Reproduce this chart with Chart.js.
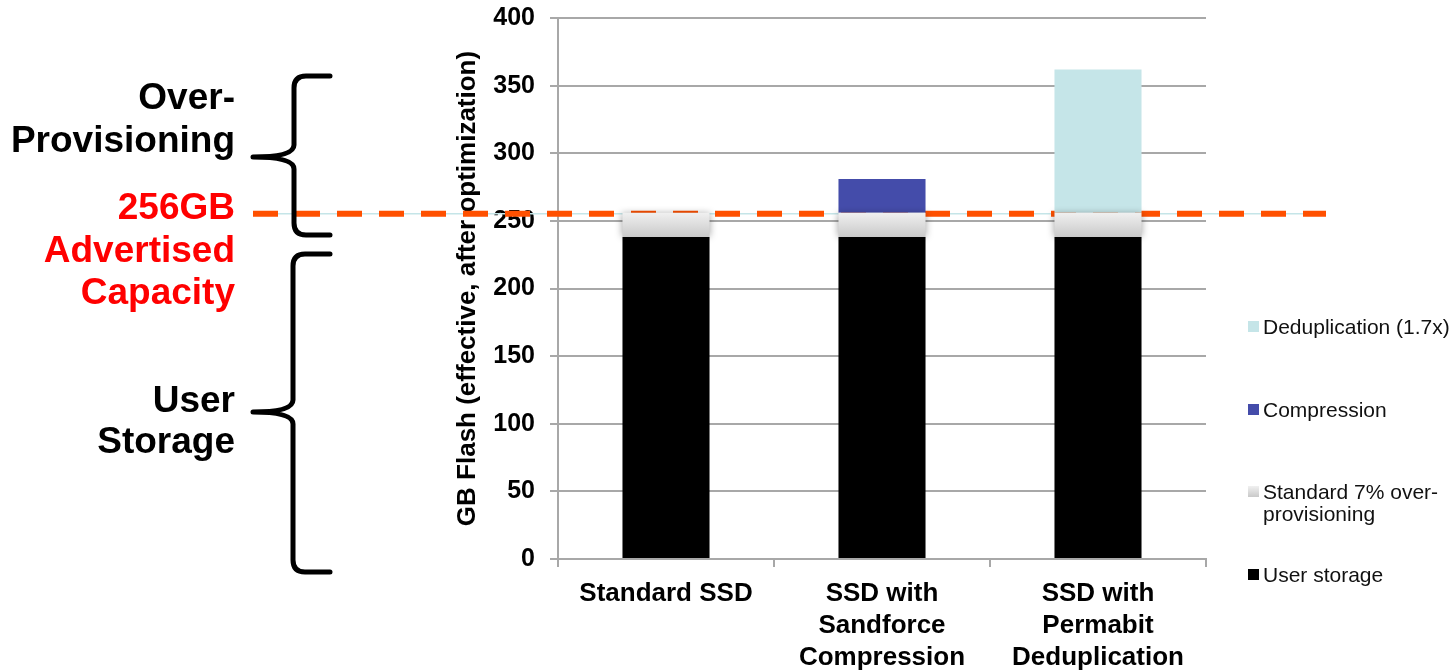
<!DOCTYPE html>
<html>
<head>
<meta charset="utf-8">
<title>SSD capacity</title>
<script src="https://cdn.jsdelivr.net/npm/chart.js@4.4.1/dist/chart.umd.min.js"></script>
<style>
    html, body { margin: 0; padding: 0; background: #ffffff; }
    #wrap { position: relative; width: 1454px; height: 672px; }
</style>
</head>
<body>
<div id="wrap"><canvas id="capacityChart" width="1454" height="672"></canvas></div>
<script>
// Chart data
const categories = [
    ['Standard SSD'],
    ['SSD with', 'Sandforce', 'Compression'],
    ['SSD with', 'Permabit', 'Deduplication']
];
const userStorage = [238, 238, 238];
const overProvisioning = [18, 18, 18];
const compression = [0, 25, 0];
const deduplication = [0, 0, 106];
const yTicks = [0, 50, 100, 150, 200, 250, 300, 350, 400];
const advertisedCapacity = 256;

const legendLabels = [
    ['Deduplication (1.7x)'],
    ['Compression'],
    ['Standard 7% over-', 'provisioning'],
    ['User storage']
];

const FONT = "'Liberation Sans', Arial, Helvetica, sans-serif";
const GRID = '#a8a8a8';

// Gradient for the over-provisioning slice, built from the y scale
function opGradient(chart, top, bottom) {
    const g = chart.ctx.createLinearGradient(0, top, 0, bottom);
    g.addColorStop(0, '#f0f0f0');
    g.addColorStop(1, '#c9c9c9');
    return g;
}

// Draws the dashed 256GB line under the bars
const capacityLine = {
    id: 'capacityLine',
    beforeDatasetsDraw(chart) {
        const ctx = chart.ctx;
        const y = chart.scales.y.getPixelForValue(advertisedCapacity) + 1;
        ctx.save();
        ctx.strokeStyle = '#c5e5e8';
        ctx.lineWidth = 1.5;
        ctx.beginPath();
        ctx.moveTo(253, y);
        ctx.lineTo(1326, y);
        ctx.stroke();
        ctx.strokeStyle = '#ff5000';
        ctx.lineWidth = 6;
        ctx.setLineDash([25, 17]);
        ctx.beginPath();
        ctx.moveTo(253, y);
        ctx.lineTo(1326, y);
        ctx.stroke();
        ctx.restore();
    },
    // soft shadow round the over-provisioning slice
    beforeDatasetDraw(chart, args) {
        if (args.index !== 1) return;
        chart.ctx.save();
        chart.ctx.shadowColor = 'rgba(0,0,0,0.35)';
        chart.ctx.shadowBlur = 7;
    },
    afterDatasetDraw(chart, args) {
        if (args.index !== 1) return;
        chart.ctx.restore();
    }
};

// Draws a curly brace pointing left
function drawBrace(ctx, xTip, xBar, xEnd, yTop, yMid, yBot) {
    const r = 12;
    ctx.beginPath();
    ctx.moveTo(xEnd, yTop);
    ctx.lineTo(xBar + r, yTop);
    ctx.quadraticCurveTo(xBar, yTop, xBar, yTop + r);
    ctx.lineTo(xBar, yMid - r);
    ctx.quadraticCurveTo(xBar, yMid, xTip, yMid);
    ctx.quadraticCurveTo(xBar, yMid, xBar, yMid + r);
    ctx.lineTo(xBar, yBot - r);
    ctx.quadraticCurveTo(xBar, yBot, xBar + r, yBot);
    ctx.lineTo(xEnd, yBot);
    ctx.stroke();
}

// Side notes and the legend
const annotations = {
    id: 'annotations',
    afterDraw(chart) {
        const ctx = chart.ctx;
        ctx.save();

        ctx.strokeStyle = '#000000';
        ctx.lineWidth = 5;
        ctx.lineCap = 'round';
        ctx.lineJoin = 'round';
        drawBrace(ctx, 253, 294, 330, 76, 157, 235);
        drawBrace(ctx, 253, 293, 330, 254, 412, 572);

        ctx.textAlign = 'right';
        ctx.textBaseline = 'alphabetic';
        ctx.font = 'bold 37px ' + FONT;
        ctx.fillStyle = '#000000';
        ctx.fillText('Over-', 235, 109);
        ctx.fillText('Provisioning', 235, 152);
        ctx.fillText('User', 235, 412);
        ctx.fillText('Storage', 235, 453);
        ctx.fillStyle = '#ff0000';
        ctx.fillText('256GB', 235, 219);
        ctx.fillText('Advertised', 235, 262);
        ctx.fillText('Capacity', 235, 304);

        // legend
        const swatches = [
            '#c5e5e8',
            '#444caa',
            opGradient(chart, 486, 497),
            '#000000'
        ];
        const baselines = [334, 417, 499, 582];
        ctx.textAlign = 'left';
        ctx.font = '21px ' + FONT;
        legendLabels.forEach((lines, i) => {
            const b = baselines[i];
            ctx.fillStyle = swatches[i];
            ctx.fillRect(1248, b - 13, 11, 11);
            ctx.fillStyle = '#111111';
            lines.forEach((line, j) => ctx.fillText(line, 1263, b + j * 22));
        });

        ctx.restore();
    }
};

function buildChart() {
    const ctx = document.getElementById('capacityChart').getContext('2d');

    return new Chart(ctx, {
        type: 'bar',
        data: {
            labels: categories,
            datasets: [
                { label: 'User storage', data: userStorage, backgroundColor: '#000000' },
                {
                    label: 'Standard 7% over-provisioning',
                    data: overProvisioning,
                    backgroundColor: function(c) {
                        const chart = c.chart;
                        if (!chart.chartArea) return '#dddddd';
                        const y = chart.scales.y;
                        return opGradient(chart,
                            y.getPixelForValue(userStorage[0] + overProvisioning[0]),
                            y.getPixelForValue(userStorage[0]));
                    }
                },
                { label: 'Compression', data: compression, backgroundColor: '#444caa' },
                { label: 'Deduplication (1.7x)', data: deduplication, backgroundColor: '#c5e5e8' }
            ]
        },
        options: {
            responsive: false,
            animation: false,
            categoryPercentage: 1,
            barPercentage: 0.403,
            layout: { padding: { left: 449, right: 248, top: 18, bottom: 0 } },
            plugins: {
                legend: { display: false },
                tooltip: { enabled: false }
            },
            scales: {
                x: {
                    stacked: true,
                    afterFit: function(scale) {
                        scale.height = 113;
                        scale.paddingLeft = 0;
                        scale.paddingRight = 0;
                    },
                    grid: {
                        display: true,
                        drawOnChartArea: false,
                        drawTicks: true,
                        tickLength: 8,
                        color: GRID,
                        lineWidth: 2,
                        offset: true
                    },
                    border: { display: true, color: GRID, width: 2 },
                    ticks: {
                        color: '#000000',
                        padding: 11,
                        maxRotation: 0,
                        autoSkip: false,
                        font: { family: FONT, size: 26, weight: 'bold', lineHeight: 1.23 }
                    }
                },
                y: {
                    stacked: true,
                    min: yTicks[0],
                    max: yTicks[yTicks.length - 1],
                    afterFit: function(scale) {
                        scale.width = 109;
                        scale.paddingTop = 0;
                        scale.paddingBottom = 0;
                    },
                    afterBuildTicks: function(scale) {
                        scale.ticks = yTicks.map(v => ({ value: v }));
                    },
                    grid: {
                        color: GRID,
                        lineWidth: 2,
                        tickLength: 8,
                        drawTicks: true
                    },
                    border: { display: true, color: GRID, width: 2 },
                    ticks: {
                        color: '#000000',
                        padding: 15,
                        font: { family: FONT, size: 25, weight: 'bold' }
                    },
                    title: {
                        display: true,
                        text: 'GB Flash (effective, after optimization)',
                        color: '#000000',
                        padding: { top: 3, bottom: 4 },
                        font: { family: FONT, size: 26, weight: 'bold', lineHeight: 1.2 }
                    }
                }
            }
        },
        plugins: [capacityLine, annotations]
    });
}

window.onload = function() {
    buildChart();
};
</script>
</body>
</html>
